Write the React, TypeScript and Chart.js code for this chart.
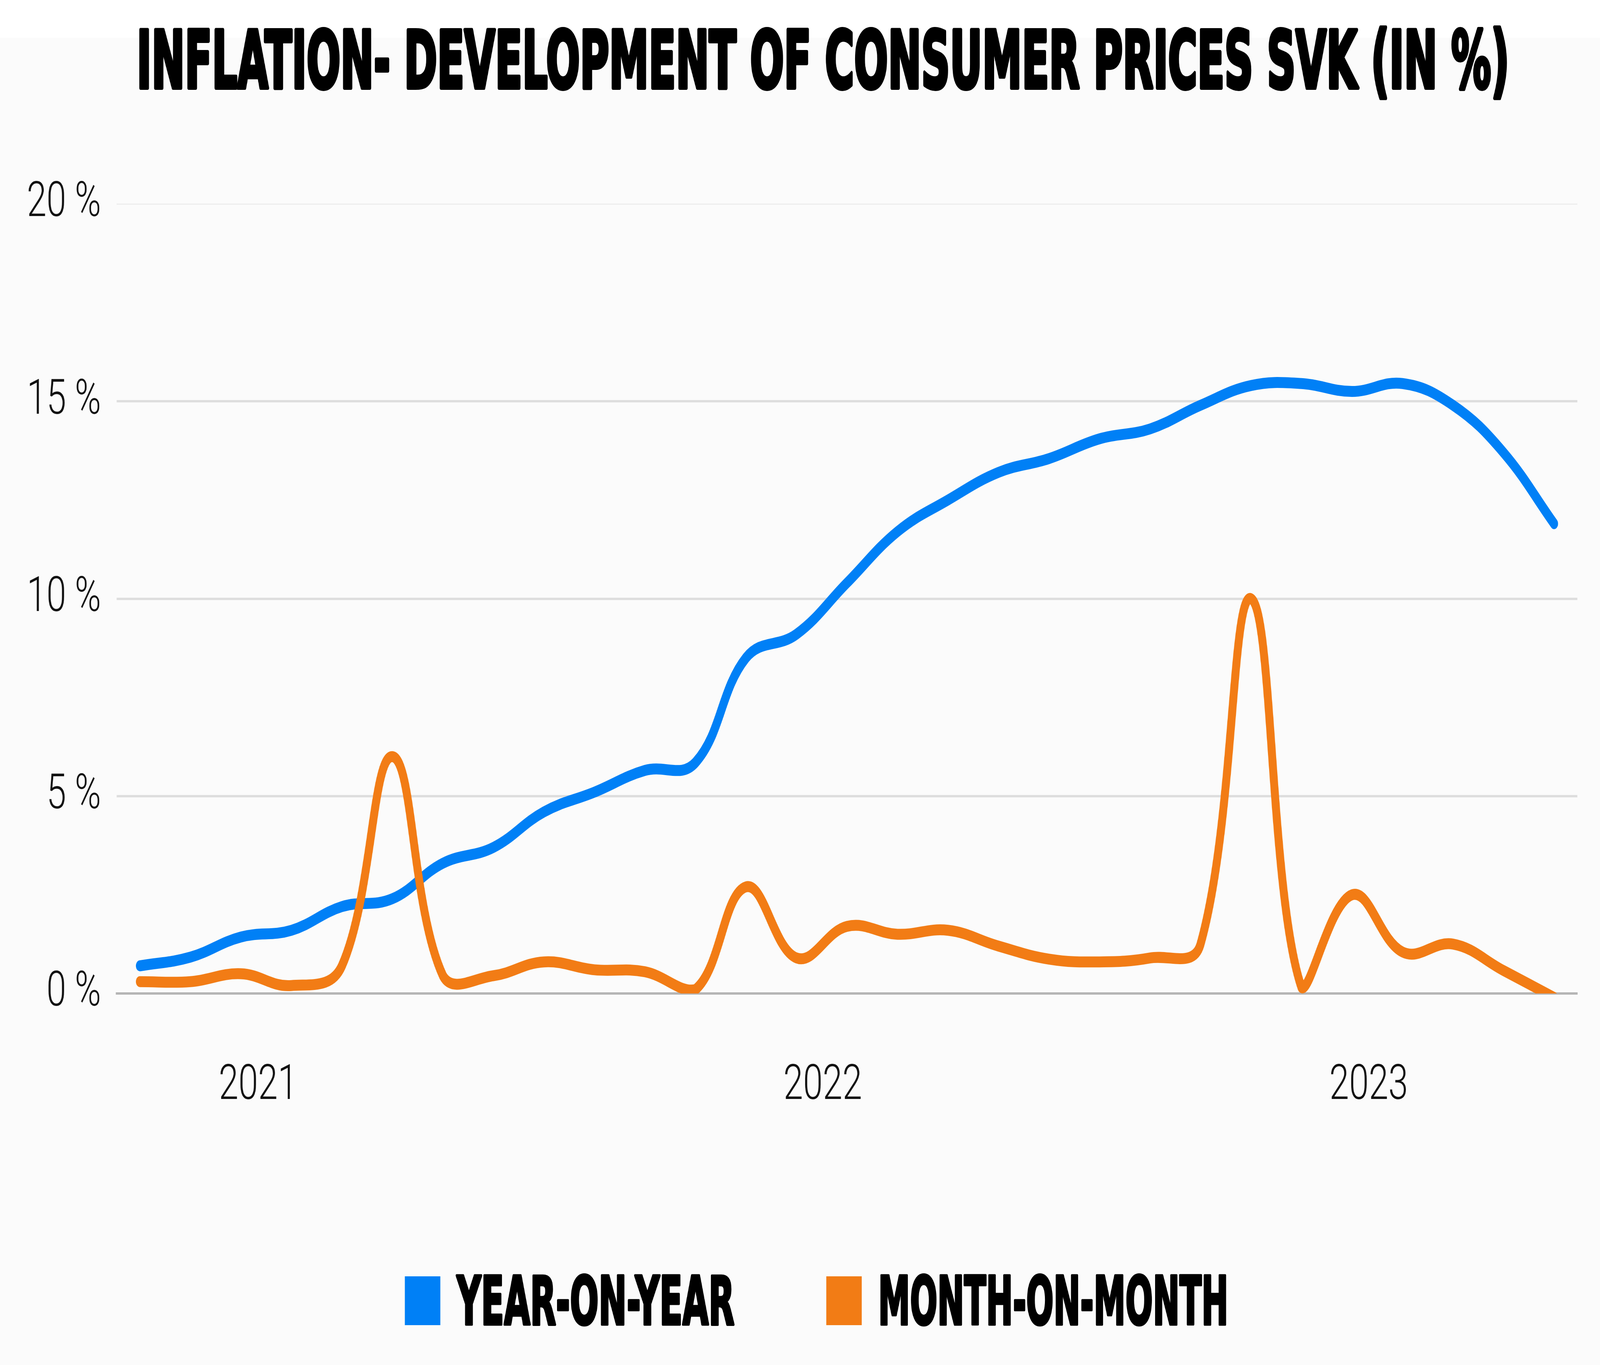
import React, { useEffect, useRef } from 'react';
import { Chart, registerables } from 'chart.js';

Chart.register(...registerables);

const TITLE = 'INFLATION- DEVELOPMENT OF CONSUMER PRICES SVK (IN %)';

const months = [
  'Jan 2021', 'Feb 2021', 'Mar 2021', 'Apr 2021', 'May 2021', 'Jun 2021',
  'Jul 2021', 'Aug 2021', 'Sep 2021', 'Oct 2021', 'Nov 2021', 'Dec 2021',
  'Jan 2022', 'Feb 2022', 'Mar 2022', 'Apr 2022', 'May 2022', 'Jun 2022',
  'Jul 2022', 'Aug 2022', 'Sep 2022', 'Oct 2022', 'Nov 2022', 'Dec 2022',
  'Jan 2023', 'Feb 2023', 'Mar 2023', 'Apr 2023', 'May 2023',
];

const yearOnYear = [
  0.7, 0.92, 1.43, 1.6, 2.2, 2.4, 3.3, 3.7, 4.6, 5.1, 5.65, 5.85,
  8.5, 9.1, 10.4, 11.7, 12.5, 13.2, 13.55, 14.05, 14.3, 14.9, 15.4, 15.45,
  15.25, 15.45, 14.9, 13.7, 11.9,
];

const monthOnMonth = [
  0.3, 0.3, 0.5, 0.2, 0.7, 6.0, 0.45, 0.45, 0.8, 0.6, 0.55, 0.1,
  2.7, 0.9, 1.7, 1.5, 1.6, 1.2, 0.87, 0.8, 0.9, 1.25, 10.0, 0.15,
  2.5, 1.05, 1.25, 0.58, -0.1,
];

const seriesLabels = ['YEAR-ON-YEAR', 'MONTH-ON-MONTH'];
const seriesColors = ['#0080F6', '#F27C15'];

const yearTickLabels = ['2021', '2022', '2023'];
const yearTickAt = [2.34, 13.52, 24.33];
const yTickValues = [0, 5, 10, 15, 20];

// design frame (the reference size); the bitmap is drawn at this size
const W = 5638;
const H = 3494;

const CONDENSED = '"DejaVu Sans Condensed", "DejaVu Sans", sans-serif';

function drawSqueezed(
  ctx: CanvasRenderingContext2D,
  text: string,
  x: number,
  baseline: number,
  size: number,
  stroke: number,
  sx: number,
  align: CanvasTextAlign,
) {
  ctx.save();
  ctx.font = `bold ${size}px ${CONDENSED}`;
  ctx.translate(x, baseline);
  ctx.scale(sx, 1);
  ctx.textAlign = align;
  ctx.textBaseline = 'alphabetic';
  ctx.fillStyle = '#000';
  ctx.strokeStyle = '#000';
  ctx.lineWidth = stroke;
  ctx.lineJoin = 'round';
  ctx.fillText(text, 0, 0);
  ctx.strokeText(text, 0, 0);
  ctx.restore();
}

function measure(ctx: CanvasRenderingContext2D, text: string, size: number) {
  ctx.save();
  ctx.font = `bold ${size}px ${CONDENSED}`;
  const w = ctx.measureText(text).width;
  ctx.restore();
  return w;
}

const decorPlugin = {
  id: 'decor',
  beforeDraw(chart: any) {
    const { ctx, width, height } = chart;
    ctx.save();
    ctx.fillStyle = '#ffffff';
    ctx.fillRect(0, 0, width, height);
    ctx.fillStyle = '#fbfbfb';
    ctx.fillRect(0, 97, width, height - 97);
    ctx.restore();
  },
  afterDraw(chart: any) {
    const ctx: CanvasRenderingContext2D = chart.ctx;
    // title
    const tSize = 203;
    const tStroke = 10;
    const tTarget = 4844;
    const tSx = tTarget / (measure(ctx, TITLE, tSize) + tStroke);
    drawSqueezed(ctx, TITLE, 2900, 225, tSize, tStroke, tSx, 'center');

    // legend
    const lSize = 171;
    const lStroke = 7;
    const labels = chart.data.datasets.map((d: any) => d.label as string);
    const colors = chart.data.datasets.map((d: any) => d.borderColor as string);
    const textWidths = [984, 1239];
    const box = 125;
    const gap = 58;
    const itemGap = 318;
    let total = 0;
    textWidths.forEach((w: number, i: number) => {
      total += box + gap + w + (i < textWidths.length - 1 ? itemGap : 0);
    });
    let x = 2880 - total / 2;
    labels.forEach((l: string, i: number) => {
      const sx = textWidths[i] / (measure(ctx, l, lSize) + lStroke);
      ctx.save();
      ctx.fillStyle = colors[i];
      ctx.fillRect(x, 3267, box, box);
      ctx.restore();
      drawSqueezed(ctx, l, x + box + gap, 3390, lSize, lStroke, sx, 'left');
      x += box + gap + textWidths[i] + itemGap;
    });
  },
};

export default function App() {
  const ref = useRef<HTMLCanvasElement>(null);

  useEffect(() => {
    const canvas = ref.current;
    if (!canvas) return;
    const tickFont = { family: 'Roboto', size: 125, weight: '300' as any };
    const chart = new Chart(canvas, {
      type: 'line',
      data: {
        labels: months,
        datasets: [
          {
            label: seriesLabels[0],
            data: yearOnYear.map((v, i) => ({ x: i, y: v })),
            borderColor: seriesColors[0],
            backgroundColor: seriesColors[0],
            order: 1,
          },
          {
            label: seriesLabels[1],
            data: monthOnMonth.map((v, i) => ({ x: i, y: v })),
            borderColor: seriesColors[1],
            backgroundColor: seriesColors[1],
            order: 0,
          },
        ],
      },
      options: {
        animation: false,
        responsive: false,
        devicePixelRatio: 1,
        layout: { padding: { top: 522, right: 80, bottom: 0, left: 0 } },
        plugins: {
          legend: { display: false },
          title: { display: false },
          tooltip: { enabled: false },
        },
        elements: {
          point: { radius: 0, hoverRadius: 0 },
          line: {
            tension: 0.4,
            borderWidth: 28,
            borderCapStyle: 'round',
            borderJoinStyle: 'round',
          },
        },
        scales: {
          x: {
            type: 'linear',
            min: -0.46,
            max: 28.46,
            afterBuildTicks: (s: any) => {
              s.ticks = yearTickAt.map((v) => ({ value: v }));
            },
            afterFit: (s: any) => {
              s.height = 951;
            },
            grid: { display: false, drawTicks: false },
            border: { display: true, color: '#b5b5b5', width: 6 },
            ticks: {
              autoSkip: false,
              maxRotation: 0,
              padding: 164,
              color: '#111111',
              font: tickFont,
              callback: (_v: any, i: number) => yearTickLabels[i] ?? '',
            },
          },
          y: {
            min: 0,
            max: 20,
            afterBuildTicks: (s: any) => {
              s.ticks = yTickValues.map((v) => ({ value: v }));
            },
            afterFit: (s: any) => {
              s.width = 411;
            },
            grid: {
              drawTicks: false,
              color: (c: any) =>
                c.tick && c.tick.value === 0 ? '#b5b5b5' : c.tick && c.tick.value === 20 ? '#ededed' : '#dedede',
              lineWidth: (c: any) => (c.tick && c.tick.value === 20 ? 3 : 6),
            },
            border: { display: false },
            ticks: {
              padding: 55,
              color: '#111111',
              font: tickFont,
              callback: (v: any) => `${v} %`,
            },
          },
        },
      },
      plugins: [decorPlugin],
    });
    return () => chart.destroy();
  }, []);

  return (
    <div style={{ position: 'fixed', left: 0, top: 0, width: '100vw', height: '100vh', background: '#fbfbfb', overflow: 'hidden' }}>
      <canvas ref={ref} width={W} height={H} style={{ display: 'block', width: '100vw', height: '100vh' }} />
    </div>
  );
}
